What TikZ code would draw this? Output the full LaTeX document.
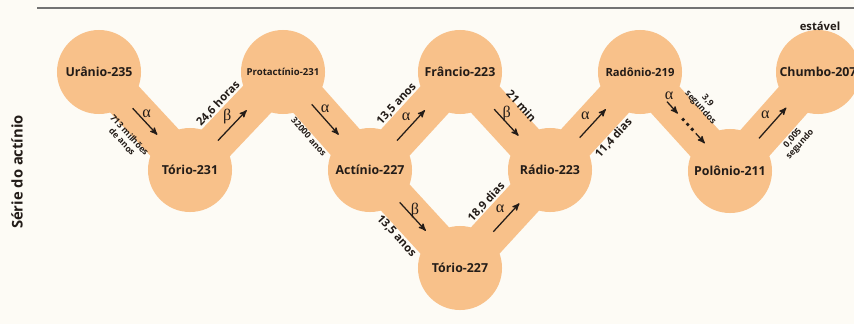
\documentclass[tikz,border=0pt]{standalone}
\usepackage{fontspec}
\setmainfont{Open Sans}
\newfontfamily\greekserif{Liberation Serif}
\usetikzlibrary{arrows,positioning,calc,backgrounds}
\definecolor{bandorange}{RGB}{248,193,138}
\definecolor{paper}{RGB}{253,251,245}
\definecolor{ink}{RGB}{35,28,24}
\definecolor{rulegray}{RGB}{115,115,115}
\tikzset{
  nuclide/.style={circle, fill=bandorange, minimum size=2.1cm, inner sep=0pt, text=ink, font=\bfseries\fontsize{8.8}{10}\selectfont},
  band/.style={draw=bandorange, line width=0.97cm},
  decay/.style={-stealth', line width=0.9pt, draw=ink},
  greek/.style={inner sep=1pt, text=ink, font=\greekserif\fontsize{11.5}{12}\selectfont},
  halflife/.style={sloped, inner sep=0pt, text=ink, font=\bfseries\fontsize{8}{9}\selectfont},
  halflifesmall/.style={sloped, inner sep=0pt, align=center, text=ink, font=\bfseries\fontsize{6.2}{7}\selectfont}
}
\begin{document}
\begin{tikzpicture}[x=0.025cm, y=0.025cm]
  \useasboundingbox (0,0) rectangle (854,324);

  \node (u235) [nuclide] at (99,252) {Urânio-235};
  \node (th231) [nuclide] at (190,154) {Tório-231};
  \node (pa231) [nuclide, font=\bfseries\fontsize{6.8}{8}\selectfont] at (283,252) {Protactínio-231};
  \node (ac227) [nuclide] at (370,154) {Actínio-227};
  \node (fr223) [nuclide] at (460,252) {Frâncio-223};
  \node (th227) [nuclide] at (460,56) {Tório-227};
  \node (ra223) [nuclide] at (550,154) {Rádio-223};
  \node (rn219) [nuclide, font=\bfseries\fontsize{8}{9}\selectfont] at (640,252) {Radônio-219};
  \node (po211) [nuclide] at (730,153) {Polônio-211};
  \node (pb207) [nuclide] at (818,252) {Chumbo-207};

  \node (stable) [text=ink, font=\bfseries\fontsize{8}{9}\selectfont] at (820,298) {estável};
  \node (serie) [rotate=90, text=ink, font=\bfseries\fontsize{10.5}{11}\selectfont] at (17,152) {Série do actínio};

  \coordinate (ruleL) at (37,316);
  \coordinate (ruleR) at (854,316);
  \draw [rulegray, line width=1.4pt] (ruleL) -- (ruleR);

  \begin{scope}[on background layer]
    \fill [paper] (0,0) rectangle (854,324);
    \path [band]
    (u235.center) edge (th231.center)
    (th231.center) edge (pa231.center)
    (pa231.center) edge (ac227.center)
    (ac227.center) edge (fr223.center)
    (fr223.center) edge (ra223.center)
    (ac227.center) edge (th227.center)
    (th227.center) edge (ra223.center)
    (ra223.center) edge (rn219.center)
    (rn219.center) edge (po211.center)
    (po211.center) edge (pb207.center);
  \end{scope}

  % half-lives
  \path (u235) -- (th231) node [halflifesmall, midway, below=0.42cm] {713 milhões\\de anos};
  \path (th231) -- (pa231) node [halflife, midway, above=0.5cm] {24,6 horas};
  \path (pa231) -- (ac227) node [halflifesmall, midway, below=0.5cm] {32000 anos};
  \path (ac227) -- (fr223) node [halflife, midway, above=0.5cm] {13,5 anos};
  \path (fr223) -- (ra223) node [halflife, midway, above=0.45cm] {21 min};
  \path (ac227) -- (th227) node [halflife, midway, below=0.5cm] {13,5 anos};
  \path (th227) -- (ra223) node [halflife, midway, above=0.5cm] {18,9 dias};
  \path (ra223) -- (rn219) node [halflife, midway, below=0.5cm] {11,4 dias};
  \path (rn219) -- (po211) node [halflifesmall, midway, above=0.4cm] {3,9\\segundos};
  \path (po211) -- (pb207) node [halflifesmall, midway, below=0.52cm] {0,005\\segundo};

  % decays
  \draw [decay] ($(u235)!0.37!(th231)$) -- ($(u235)!0.64!(th231)$) node [greek, pos=0.2, right=2pt] {α};
  \draw [decay] ($(th231)!0.3!(pa231)$) -- ($(th231)!0.61!(pa231)$) node [greek, pos=0.78, left=5pt] {β};
  \draw [decay] ($(pa231)!0.33!(ac227)$) -- ($(pa231)!0.64!(ac227)$) node [greek, pos=0.16, right=2pt] {α};
  \draw [decay] ($(ac227)!0.3!(fr223)$) -- ($(ac227)!0.61!(fr223)$) node [greek, pos=0.8, left=5pt] {α};
  \draw [decay] ($(fr223)!0.38!(ra223)$) -- ($(fr223)!0.65!(ra223)$) node [greek, pos=0.15, right=2pt] {β};
  \draw [decay] ($(ac227)!0.33!(th227)$) -- ($(ac227)!0.62!(th227)$) node [greek, pos=0.3, right=1pt] {β};
  \draw [decay] ($(th227)!0.37!(ra223)$) -- ($(th227)!0.66!(ra223)$) node [greek, pos=0.82, left=6pt] {α};
  \draw [decay] ($(ra223)!0.33!(rn219)$) -- ($(ra223)!0.62!(rn219)$) node [greek, pos=0.78, left=6pt] {α};
  \draw [decay] ($(rn219)!0.3!(po211)$) -- ($(rn219)!0.42!(po211)$) node [greek, pos=0, above right=0pt and -3pt] {α};
  \foreach \t in {0.48,0.53,0.58}
    \fill [ink] ($(rn219)!\t!(po211)$) circle (1.4pt);
  \draw [decay] ($(rn219)!0.62!(po211)$) -- ($(rn219)!0.72!(po211)$);
  \draw [decay] ($(po211)!0.33!(pb207)$) -- ($(po211)!0.64!(pb207)$) node [greek, pos=0.77, left=6pt] {α};
\end{tikzpicture}
\end{document}
